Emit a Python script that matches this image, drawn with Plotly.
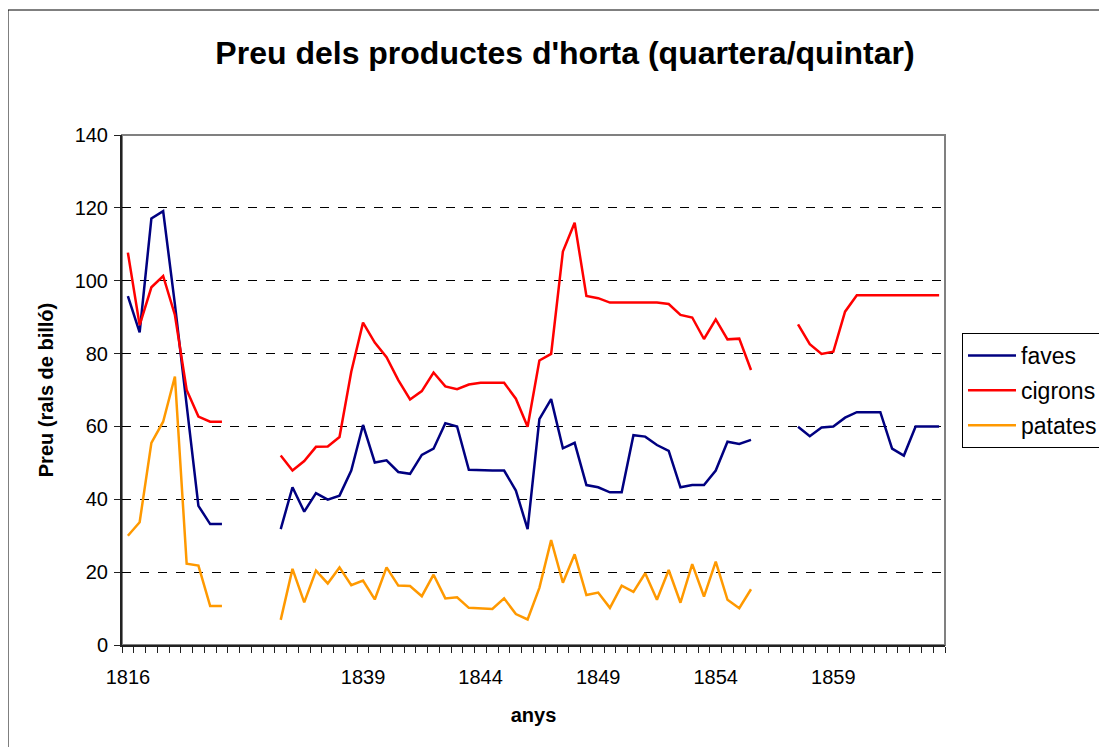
import plotly.graph_objects as go

# category index 0..69 (Excel category axis)
categories = list(range(70))
tick_positions = [0, 20, 30, 40, 50, 60]
tick_labels = ["1816", "1839", "1844", "1849", "1854", "1859"]

N = None
faves = [95.8, 85.8, 117.1, 119.1, 93.5, 66.5, 38.2, 33.2, 33.2,
         N, N, N, N,
         31.8, 43.3, 36.6, 41.7, 39.9, 41.0, 47.9, 60.4, 50.1, 50.7,
         47.5, 47.0, 52.2, 53.9, 60.9, 60.0, 48.1, 47.9, 47.9, 47.9,
         42.4, 31.8, 62.0, 67.5, 54.0, 55.5, 43.9, 43.3, 41.9, 41.9,
         57.6, 57.2, 54.9, 53.3, 43.3, 43.9, 43.9, 47.9, 55.8, 55.2, 56.3,
         N, N, N,
         59.9, 57.3, 59.7, 60.0, 62.4, 63.9, 63.9, 63.9, 53.9, 52.0,
         60.0, 60.0, 60.0]
cigrons = [107.7, 87.8, 98.2, 101.3, 90.6, 70.0, 62.7, 61.3, 61.3,
           N, N, N, N,
           52.0, 47.9, 50.5, 54.4, 54.5, 57.1, 75.0, 88.5, 83.0, 79.0,
           72.7, 67.4, 69.7, 74.8, 71.0, 70.2, 71.5, 72.0, 72.0, 72.0,
           67.6, 59.9, 78.1, 79.9, 108.0, 115.9, 95.8, 95.2, 94.0, 94.0,
           94.0, 94.0, 94.0, 93.6, 90.6, 89.9, 84.0, 89.4, 83.9, 84.1, 75.5,
           N, N, N,
           88.0, 82.6, 79.9, 80.5, 91.5, 96.0, 96.0, 96.0, 96.0, 96.0,
           96.0, 96.0, 96.0]
patates = [30.0, 33.7, 55.5, 61.3, 73.7, 22.3, 21.8, 10.7, 10.7,
           N, N, N, N,
           6.9, 20.9, 11.7, 20.4, 16.9, 21.3, 16.4, 17.7, 12.5, 21.3,
           16.3, 16.2, 13.4, 19.3, 12.8, 13.1, 10.2, 10.0, 9.9, 12.8,
           8.5, 7.0, 15.7, 28.8, 17.1, 24.9, 13.7, 14.4, 10.2, 16.3,
           14.6, 19.7, 12.4, 20.6, 11.6, 22.2, 13.3, 22.9, 12.4, 10.1, 15.3,
           N, N, N,
           N, N, N, N, N, N, N, N, N, N,
           N, N, N]

series_names = ["faves", "cigrons", "patates"]
series_colors = ["#000080", "#FF0000", "#FF9900"]
series_values = [faves, cigrons, patates]

FONT = "Liberation Sans, Arial, sans-serif"

fig = go.Figure()
for name, color, vals in zip(series_names, series_colors, series_values):
    fig.add_trace(go.Scatter(
        x=categories, y=vals, name=name, mode="lines",
        line=dict(color=color, width=2.5),
        connectgaps=False, legendgroup=name,
    ))

# the page body adds an 8px offset; target plot area is x 122..945, y 135..645
OFF = 8
W, H = 1107, 747
pw, ph = 823, 510
L, T = 122 - OFF, 135 - OFF
R, B = W - L - pw, H - T - ph

def px_x(x):
    return (x - 122) / pw

def px_y(y):
    return (645 - y) / ph

fig.update_layout(
    width=W, height=H,
    margin=dict(l=L, r=R, t=T, b=B, pad=0),
    paper_bgcolor="white", plot_bgcolor="white",
    font=dict(family=FONT, color="black", size=20),
    title=dict(text="<b>Preu dels productes d'horta (quartera/quintar)</b>",
               x=px_x(565), xref="paper", xanchor="center",
               y=1 - (53 - OFF) / H, yanchor="middle",
               font=dict(size=32, family=FONT, color="black")),
    showlegend=True,
    legend=dict(x=px_x(962), xanchor="left",
                y=px_y(333), yanchor="top",
                bordercolor="black", borderwidth=1, bgcolor="white",
                font=dict(size=23, family=FONT, color="black"),
                traceorder="grouped", tracegroupgap=2,
                itemwidth=48),
)

boundaries = [i - 0.5 for i in range(71)]
fig.update_xaxes(
    range=[-0.5, 69.5], tickmode="array",
    tickvals=tick_positions, ticktext=tick_labels,
    ticks="outside", ticklen=6, tickcolor="rgba(0,0,0,0)",
    ticklabelstandoff=7,
    tickfont=dict(size=20, family=FONT, color="black"),
    showgrid=False, zeroline=False,
    showline=True, linecolor="#222222", linewidth=2,
    minor=dict(tickvals=boundaries, ticks="outside", ticklen=6,
               tickcolor="#222222", tickwidth=1, showgrid=False),
    title=dict(text="<b>anys</b>", font=dict(size=20, family=FONT, color="black"),
               standoff=21),
)
fig.update_yaxes(
    range=[0, 140], tickmode="linear", tick0=0, dtick=20,
    ticks="outside", ticklen=6, tickcolor="#222222", tickwidth=1,
    ticklabelstandoff=2,
    tickfont=dict(size=20, family=FONT, color="black"),
    showgrid=True, gridcolor="black", gridwidth=1, griddash="dash",
    zeroline=False,
    showline=True, linecolor="#222222", linewidth=2,
    title=dict(text="<b>Preu (rals de billó)</b>",
               font=dict(size=20, family=FONT, color="black"), standoff=16),
)

# plot-area border (grey) and outer chart frame (black)
fig.add_shape(type="rect", xref="x domain", yref="y domain",
              x0=0, x1=1, y0=0, y1=1, line=dict(color="#808080", width=2),
              layer="below")
fig.add_shape(type="rect", xref="paper", yref="paper",
              x0=px_x(8), x1=px_x(W + 30),
              y0=px_y(H + 30), y1=px_y(10),
              line=dict(color="black", width=1), layer="below")

fig.write_html("out.html")
